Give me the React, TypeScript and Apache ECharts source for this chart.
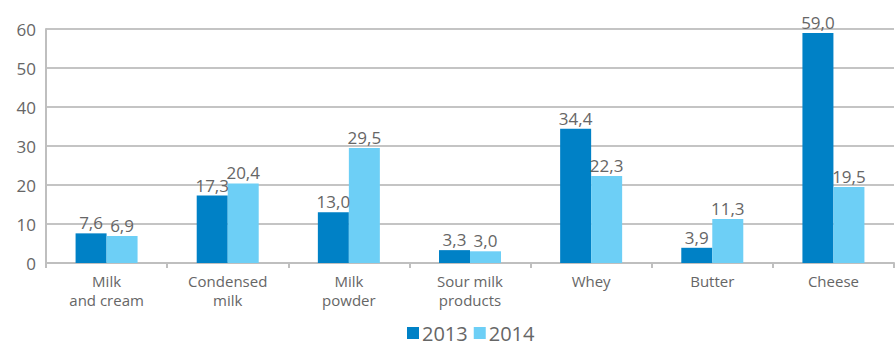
import React, { useEffect, useRef } from "react";
import * as echarts from "echarts";

const categories = ["Milk\nand cream", "Condensed\nmilk", "Milk\npowder", "Sour milk\nproducts", "Whey", "Butter", "Cheese"];
const values2013 = [7.6, 17.3, 13.0, 3.3, 34.4, 3.9, 59.0];
const values2014 = [6.9, 20.4, 29.5, 3.0, 22.3, 11.3, 19.5];
const seriesNames = ["2013", "2014"];

const FONT = "'Open Sans', 'Noto Sans', sans-serif";
const TEXT = "#666666";

export default function App() {
  const ref = useRef<HTMLDivElement>(null);
  useEffect(() => {
    if (!ref.current) return;
    const chart = echarts.init(ref.current, null, { renderer: "svg" });
    const fmt = (p: any) => Number(p.value).toFixed(1).replace(".", ",");
    const label = {
      show: true,
      position: "top" as const,
      distance: 2,
      formatter: fmt,
      color: TEXT,
      fontSize: 17,
      fontFamily: FONT,
    };
    chart.setOption({
      animation: false,
      grid: { left: 46, right: 2, top: 29, bottom: 83, containLabel: false },
      legend: {
        data: seriesNames,
        top: 323,
        left: 407,
        padding: 0,
        itemWidth: 12,
        itemHeight: 12,
        itemGap: 6,
        icon: "rect",
        textStyle: { color: TEXT, fontSize: 20, lineHeight: 20, fontFamily: FONT, padding: [0, 0, 0, -2] },
      },
      xAxis: {
        type: "category",
        data: categories,
        axisLine: { lineStyle: { color: "#bfbfbf", width: 2 } },
        axisTick: { show: true, length: 5, lineStyle: { color: "#bfbfbf", width: 2 } },
        axisLabel: { color: TEXT, fontSize: 15, fontFamily: FONT, lineHeight: 19, margin: 8 },
      },
      yAxis: {
        type: "value",
        min: 0,
        max: 60,
        interval: 10,
        axisLine: { show: true, lineStyle: { color: "#bfbfbf", width: 2 } },
        axisTick: { show: false },
        splitLine: { lineStyle: { color: "#c4c4c4", width: 2 } },
        axisLabel: { color: TEXT, fontSize: 17, fontFamily: FONT, margin: 10 },
      },
      series: [
        {
          name: seriesNames[0],
          type: "bar",
          data: values2013,
          barWidth: 31,
          barGap: "0%",
          itemStyle: { color: "#0081c6" },
          label,
        },
        {
          name: seriesNames[1],
          type: "bar",
          data: values2014,
          barWidth: 31,
          barGap: "0%",
          itemStyle: { color: "#6dcff6" },
          label,
        },
      ],
    });
    return () => chart.dispose();
  }, []);
  return (
    <div
      ref={ref}
      style={{ position: "absolute", left: 0, top: 0, width: 896, height: 346 }}
    />
  );
}
